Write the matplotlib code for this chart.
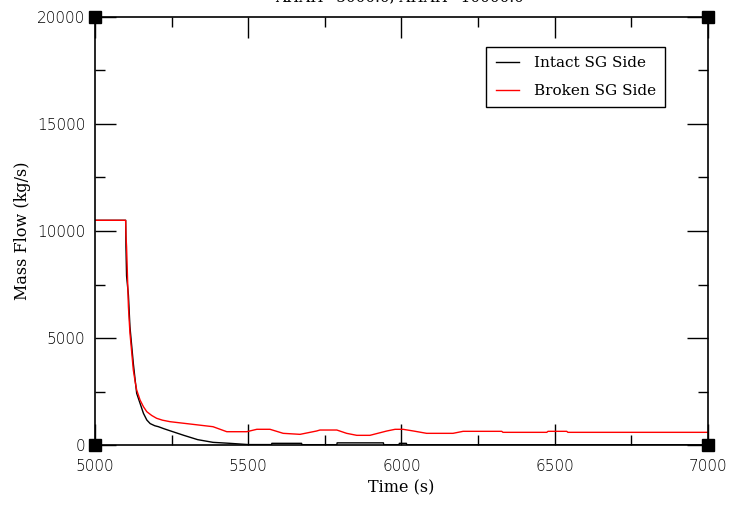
import matplotlib.pyplot as plt
from matplotlib.ticker import MultipleLocator

# tiempos (s) y caudales (kg/s)
t_intact = [5000, 5100, 5101, 5103, 5109, 5114, 5120, 5125, 5131, 5136, 5147, 5158,
            5169, 5180, 5195, 5207, 5225, 5250, 5290, 5335, 5385, 5440, 5500, 5576,
            5577, 5674, 5675, 5789, 5790, 5941, 5942, 5992, 5993, 6016, 6017, 7000]
m_intact = [10500, 10500, 9266, 7900, 7009, 5528, 4593, 3816, 3037, 2414, 1947, 1480,
            1168, 1000, 900, 855, 760, 640, 450, 250, 124, 78, 20, 20,
            78, 78, 15, 15, 100, 100, 15, 15, 78, 78, 10, 10]

t_broken = [5000, 5100, 5101, 5103, 5109, 5114, 5120, 5125, 5131, 5136, 5147, 5158,
            5169, 5185, 5201, 5220, 5245, 5310, 5385, 5430, 5495, 5528, 5571, 5614,
            5669, 5723, 5734, 5789, 5821, 5854, 5897, 5952, 5979, 6005, 6039, 6082,
            6168, 6201, 6327, 6331, 6474, 6478, 6539, 6543, 7000]
m_broken = [10500, 10500, 9800, 9266, 6463, 5234, 4299, 3505, 2958, 2570, 2103, 1790,
            1556, 1380, 1248, 1160, 1089, 981, 855, 621, 621, 734, 734, 545,
            498, 654, 700, 700, 545, 452, 452, 654, 733, 733, 654, 545,
            545, 639, 639, 592, 592, 639, 639, 592, 592]

x_ticks = [5000, 5500, 6000, 6500, 7000]
y_ticks = [0, 5000, 10000, 15000, 20000]

plt.rcParams['font.family'] = ['DejaVu Serif']

fig = plt.figure(figsize=(7.34, 5.05), dpi=100)
ax = fig.add_axes([95/734, 60/505, 613/734, 428/505])

ax.plot(t_intact, m_intact, color='black', lw=1, label='Intact SG Side')
ax.plot(t_broken, m_broken, color='red', lw=1, label='Broken SG Side')

ax.set_xlim(5000, 7000)
ax.set_ylim(0, 20000)
ax.set_xticks(x_ticks)
ax.set_yticks(y_ticks)
ax.xaxis.set_minor_locator(MultipleLocator(250))
ax.yaxis.set_minor_locator(MultipleLocator(2500))
ax.tick_params(which='both', direction='in', top=True, right=True)
ax.tick_params(which='major', length=15, width=1)
ax.tick_params(which='minor', length=7, width=1)
ax.tick_params(axis='x', pad=10)
ax.tick_params(axis='y', pad=7)
for lbl in ax.get_xticklabels() + ax.get_yticklabels():
    lbl.set_family('DejaVu Sans')
    lbl.set_fontsize(11)
    lbl.set_fontweight('light')
for s in ax.spines.values():
    s.set_linewidth(1.2)

# cuadrados negros en las esquinas
ax.plot([5000, 7000, 5000, 7000], [0, 0, 20000, 20000], 's', color='black',
        ms=8, clip_on=False, zorder=5)

ax.set_xlabel('Time (s)', fontsize=11.5, labelpad=4)
ax.set_ylabel('Mass Flow (kg/s)', fontsize=11.5)
ax.yaxis.set_label_coords(-0.104, 0.5)

leg = ax.legend(loc='upper right', bbox_to_anchor=(0.93, 0.93), fontsize=11,
                fancybox=False, edgecolor='black', framealpha=1, handlelength=1.5,
                handletextpad=1.0, borderpad=0.6, labelspacing=0.9, borderaxespad=0)
leg.get_frame().set_linewidth(1)

fig.text(0.545, 1.005, 'AHAH=5000.0, AHAH=10000.0', ha='center', va='center', fontsize=11)

fig.savefig('out.png', dpi=100)
